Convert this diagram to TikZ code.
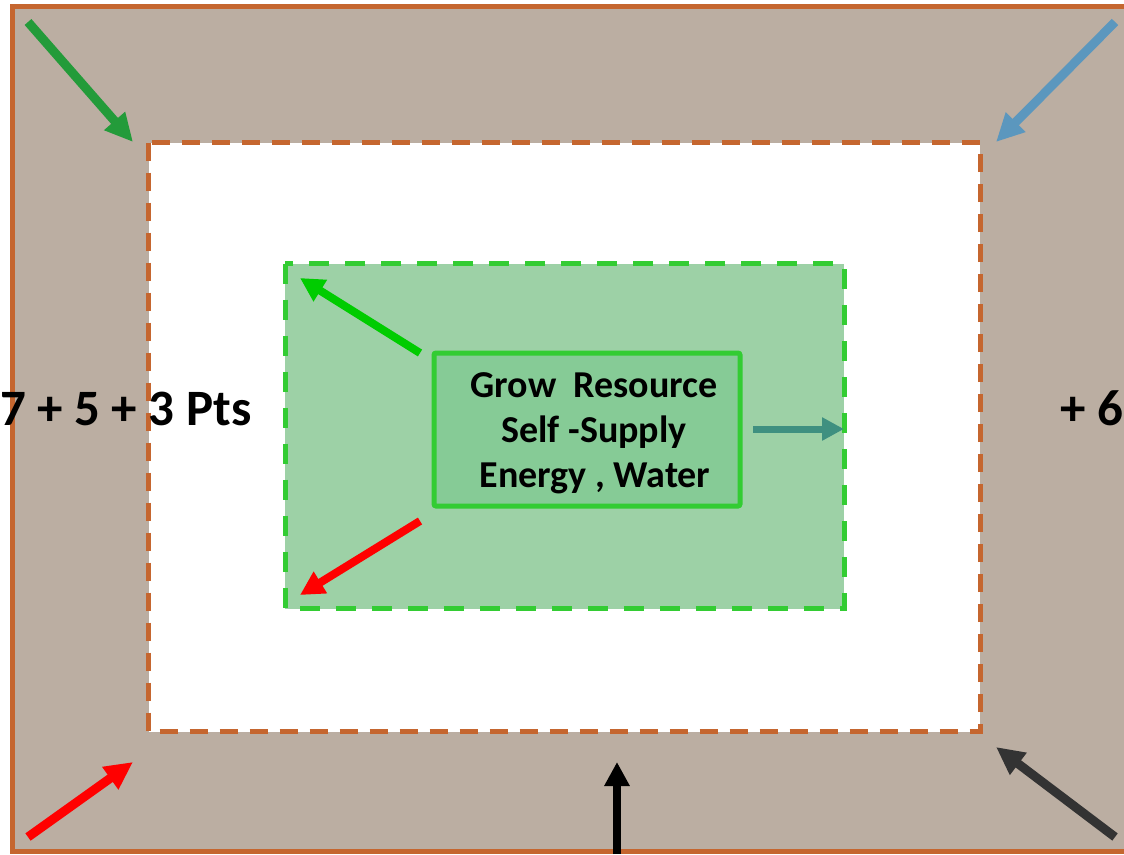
\documentclass[tikz,border=0pt]{standalone}
\usepackage{fontspec}
\setmainfont{Carlito}
\usetikzlibrary{arrows.meta}
\definecolor{frameorange}{HTML}{C5662F}
\definecolor{framefill}{HTML}{BBAEA2}
\definecolor{dashgreen}{HTML}{33CC33}
\definecolor{zonefill}{HTML}{9DD1A6}
\definecolor{boxfill}{HTML}{86CB96}
\definecolor{arrgreen}{HTML}{239B3A}
\definecolor{arrblue}{HTML}{5B97BE}
\definecolor{arrred}{HTML}{FF0000}
\definecolor{arrdark}{HTML}{333333}
\definecolor{arrlime}{HTML}{00CC00}
\definecolor{arrteal}{HTML}{3F9080}
\begin{document}
\begin{tikzpicture}[x=1pt,y=-1pt,
  bigarrow/.style={line width=9pt,-{Triangle[length=28pt,width=26pt]}},
  midarrow/.style={line width=8pt,-{Triangle[length=24pt,width=24pt]}},
  smallarrow/.style={line width=7pt,-{Triangle[length=22pt,width=22pt]}},
  bigtext/.style={font=\bfseries\fontsize{51}{60}\selectfont,inner sep=0pt},
  coretext/.style={font=\bfseries\fontsize{38}{45}\selectfont,inner sep=0pt,anchor=base}]
\useasboundingbox (0,0) rectangle (1124,854);
\clip (0,0) rectangle (1124,854);
% outer frame
\draw[frameorange,fill=framefill,line width=5pt] (12.8,6.5) rectangle (1140,851.5);
% inner white zone
\draw[frameorange,fill=white,line width=5pt,dash pattern=on 18pt off 12pt] (148.5,142.5) rectangle (980,731.5);
% green zone
\draw[dashgreen,fill=zonefill,line width=5pt,dash pattern=on 20pt off 16pt] (285,263.5) rectangle (844,608.5);
% core box
\node[draw=dashgreen,fill=boxfill,line width=5pt,rounded corners=2pt,minimum width=306pt,minimum height=153pt,inner sep=0pt] (core) at (587,429.5) {};
\node[coretext] (l1) at (594,397) {Grow\ \ Resource};
\node[coretext] (l2) at (594,442) {Self -Supply};
\node[coretext] (l3) at (595,487) {Energy , Water};
% side texts
\node[bigtext,anchor=base east] (lefttext) at (252,425) {7 + 5 + 3 Pts};
\node[bigtext,anchor=base west] (righttext) at (1060,425) {+ 6};
% coordinates
\coordinate (gTail) at (28,22);   \coordinate (gTip) at (133,142);
\coordinate (bTail) at (1115,22); \coordinate (bTip) at (996,142);
\coordinate (rTail) at (28,837);  \coordinate (rTip) at (133,762);
\coordinate (dTail) at (1115,837);\coordinate (dTip) at (996,747);
\coordinate (kTail) at (617,854); \coordinate (kTip) at (617,762);
\coordinate (iTail) at (420,353); \coordinate (iTip) at (300,278);
\coordinate (jTail) at (420,521); \coordinate (jTip) at (300,595);
\coordinate (tTail) at (753,429); \coordinate (tTip) at (844,429);
% outer arrows
\draw[bigarrow,arrgreen] (gTail) -- (gTip);
\draw[bigarrow,arrblue] (bTail) -- (bTip);
\draw[bigarrow,arrred] (rTail) -- (rTip);
\draw[bigarrow,arrdark] (dTail) -- (dTip);
\draw[line width=8pt,-{Triangle[length=24pt,width=24pt]},black] (kTail) -- (kTip);
% inner arrows
\draw[midarrow,arrlime] (iTail) -- (iTip);
\draw[midarrow,arrred] (jTail) -- (jTip);
\draw[smallarrow,arrteal] (tTail) -- (tTip);
\end{tikzpicture}
\end{document}
